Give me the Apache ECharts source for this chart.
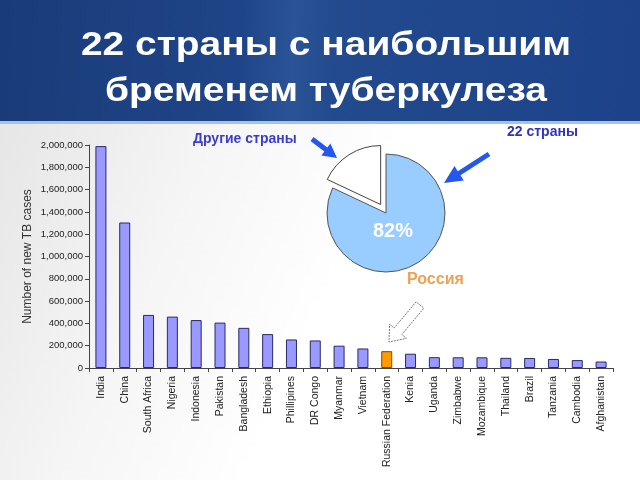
<!DOCTYPE html>
<html><head><meta charset="utf-8">
<script src="https://cdn.jsdelivr.net/npm/echarts@6/dist/echarts.min.js"></script>
<style>html,body{margin:0;padding:0;background:#fff}#c{width:640px;height:480px}</style>
</head><body><div id="c"></div>
<script>
const titleLines = ['22 страны с наибольшим', 'бременем туберкулеза'];
const countries = ['India','China','South Africa','Nigeria','Indonesia','Pakistan','Bangladesh','Ethiopia','Phillipines','DR Congo','Myanmar','Vietnam','Russian Federation','Kenia','Uganda','Zimbabwe','Mozambique','Thailand','Brazil','Tanzania','Cambodia','Afghanistan'];
const newCases = [1990000,1305000,476000,461000,430000,407000,360000,304000,256000,247000,200000,175000,151000,128000,97000,96000,96000,91000,90000,81000,71000,58000];
const highlightCountry = 'Russian Federation';
const yTicks = {min: 0, max: 2000000, interval: 200000};
const yAxisName = 'Number of new TB cases';
const pieNames = ['22 страны', 'Другие страны'];
const pieValues = [82, 18];
const highlightLabel = 'Россия';

function arrow(tail, tip, shaftW, headW, headL) {
  const dx = tip[0]-tail[0], dy = tip[1]-tail[1];
  const L = Math.hypot(dx, dy), ux = dx/L, uy = dy/L, px = -uy, py = ux;
  const bx = tip[0]-ux*headL, by = tip[1]-uy*headL;
  return [
    [tail[0]+px*shaftW/2, tail[1]+py*shaftW/2],
    [bx+px*shaftW/2, by+py*shaftW/2],
    [bx+px*headW/2, by+py*headW/2],
    tip,
    [bx-px*headW/2, by-py*headW/2],
    [bx-px*shaftW/2, by-py*shaftW/2],
    [tail[0]-px*shaftW/2, tail[1]-py*shaftW/2]
  ];
}

const chart = echarts.init(document.getElementById('c'), null, {renderer: 'canvas'});
const fmt = v => v.toLocaleString('en-US');
const FF = '"Liberation Sans", Arial, sans-serif';

chart.setOption({
  animation: false,
  backgroundColor: '#ffffff',
  graphic: [
    {type: 'rect', z: -10, shape: {x: 0, y: 0, width: 640, height: 480},
     style: {fill: new echarts.graphic.LinearGradient(0, 0, 1, 0.6, [
       {offset: 0, color: '#e2e2e2'}, {offset: 0.35, color: '#f5f5f5'}, {offset: 0.6, color: '#ffffff'}, {offset: 1, color: '#ffffff'}])}},
    {type: 'rect', z: -9, shape: {x: 0, y: 0, width: 640, height: 122},
     style: {fill: new echarts.graphic.LinearGradient(0, 0, 1, 0.3, [
       {offset: 0, color: '#1a3b79'}, {offset: 0.38, color: '#1f4588'}, {offset: 0.46, color: '#2a5496'},
       {offset: 0.53, color: '#224a8d'}, {offset: 1, color: '#1d428a'}])}},
    {type: 'rect', z: -8, shape: {x: 0, y: 121, width: 640, height: 3}, style: {fill: '#a9c2e4'}},
    {type: 'text', x: 326, y: 23, z: 5, scaleX: 1.18,
     style: {text: titleLines.join('\n'), fill: '#ffffff', font: 'bold 33px ' + FF,
             lineHeight: 46, textAlign: 'center'}},
    {type: 'polygon', z: 5, shape: {points: arrow([312,139],[337,158],5,15,14)}, style: {fill: '#2457ee'}},
    {type: 'polygon', z: 5, shape: {points: arrow([489,154],[444,183],5,17,18)}, style: {fill: '#2457ee'}},
    {type: 'polygon', z: 5, shape: {points: arrow([420,305],[389,342],10,22,14)},
     style: {fill: '#ffffff', stroke: '#777777', lineWidth: 1, lineDash: [2,1]}},
    {type: 'text', x: 193, y: 132, z: 5, style: {text: pieNames[1], fill: '#3b3bd0', font: 'bold 14px ' + FF}},
    {type: 'text', x: 507, y: 125, z: 5, style: {text: pieNames[0], fill: '#3333bb', font: 'bold 14px ' + FF}},
    {type: 'text', x: 407, y: 272, z: 5, style: {text: highlightLabel, fill: '#f0a050', font: 'bold 16px ' + FF}}
  ],
  title: {
    text: pieValues[0] + '%', left: 388, top: 216, textAlign: 'center',
    textStyle: {color: '#ffffff', fontSize: 20, fontWeight: 'bold', fontFamily: FF}
  },
  grid: {left: 89, right: 27, top: 145, bottom: 112},
  xAxis: {
    type: 'category', data: countries,
    axisLine: {lineStyle: {color: '#444444', width: 1}},
    axisTick: {show: true, length: 4, lineStyle: {color: '#444444'}},
    axisLabel: {rotate: 90, interval: 0, fontSize: 10.5, color: '#222222', margin: 8, fontFamily: FF}
  },
  yAxis: {
    type: 'value', min: yTicks.min, max: yTicks.max, interval: yTicks.interval,
    name: yAxisName, nameLocation: 'middle', nameGap: 55, nameRotate: 90, nameMoveOverlap: false,
    nameTextStyle: {fontSize: 12, color: '#333333', fontFamily: FF},
    axisLine: {show: true, lineStyle: {color: '#444444'}},
    axisTick: {show: true, length: 4, lineStyle: {color: '#444444'}},
    splitLine: {show: false},
    axisLabel: {formatter: fmt, fontSize: 9.5, color: '#222222', margin: 6, fontFamily: FF}
  },
  series: [
    {type: 'bar', barWidth: 11,
     data: newCases.map((v, i) => ({value: v, itemStyle: countries[i] === highlightCountry ?
       {color: '#ff9a00', borderColor: '#7a4a10'} : {color: '#9999ff', borderColor: '#2a2a66'}})),
     itemStyle: {borderWidth: 1}},
    {type: 'pie', center: [386, 213], radius: 59, startAngle: 90, clockwise: true,
     selectedMode: 'multiple', selectedOffset: 10, label: {show: false}, labelLine: {show: false},
     emphasis: {disabled: true},
     data: [
       {name: pieNames[0], value: pieValues[0], itemStyle: {color: '#99ccff', borderColor: '#555555', borderWidth: 1}},
       {name: pieNames[1], value: pieValues[1], selected: true, itemStyle: {color: '#ffffff', borderColor: '#444444', borderWidth: 1}}
     ]}
  ]
});
</script></body></html>
